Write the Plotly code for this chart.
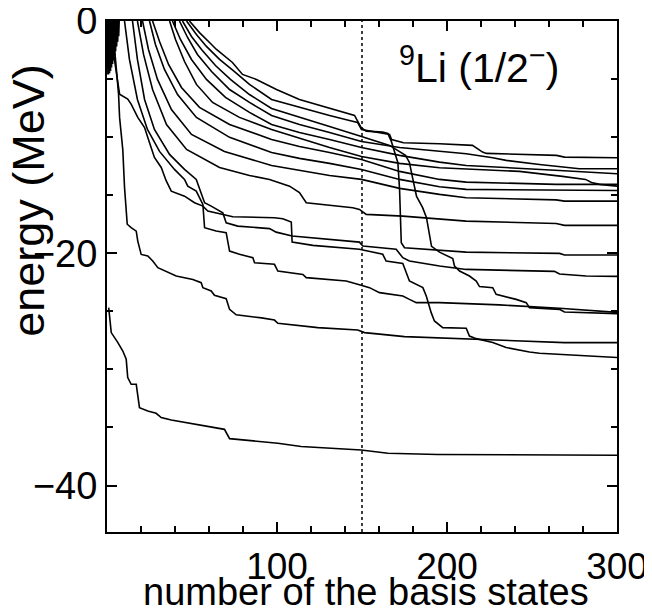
import plotly.graph_objects as go

# ---- data (number of basis states, energy in MeV) ----
x_ground = [1, 2.5, 6.4, 9.3, 11.3, 12.2, 14.2, 17.2, 19.1, 24.0, 28.9, 31.9, 37.8, 55.4, 69.1, 72.1, 86.8, 100.5, 114.2, 149.5, 165.2, 194.6, 300]
e_ground = [-24.68, -26.83, -27.69, -28.42, -29.13, -30.71, -31.28, -31.28, -33.29, -33.58, -33.78, -34.15, -34.35, -34.81, -35.16, -35.96, -36.16, -36.36, -36.64, -36.94, -37.22, -37.33, -37.39]

x_s2 = [3, 6.8, 7.4, 9.3, 10.3, 11.9, 14.2, 17.2, 18.1, 20.1, 24.0, 26.9, 29.9, 32.8, 40.7, 50.5, 55.4, 56.4, 61.3, 63.2, 70.1, 72.1, 76.0, 90.9, 98.5, 100.5, 124.0, 147.5, 151.5, 175.0, 214.2, 269.1, 300]
e_s2 = [0, -6.3, -8.3, -11.1, -14.3, -17.5, -17.8, -18.1, -18.95, -20.1, -20.24, -20.67, -21.24, -21.45, -21.96, -22.25, -22.53, -22.96, -23.25, -23.62, -23.91, -24.83, -25.3, -25.56, -25.75, -26.03, -26.4, -26.61, -26.83, -27.18, -27.41, -27.69, -27.69]

x_s3 = [2.6, 5, 7.4, 12.2, 14.2, 18.1, 22.1, 24, 27.9, 31.9, 34.8, 37.8, 45.6, 51.5, 56.4, 59.3, 69.1, 74, 98.5, 103.4, 108.4, 108.9, 121.1, 148.5, 162.2, 164.2, 174, 177.9, 185.8, 187.8, 190.7, 192.6, 197.5, 211.3, 213.2, 217.2, 226.9, 234.8, 248.5, 254.4, 300]
e_s3 = [-1.59, -4.17, -6.3, -6.73, -7.16, -8.3, -9.17, -10.03, -11.75, -12.61, -13.75, -14.65, -15.08, -15.65, -15.94, -16.37, -16.65, -16.85, -16.94, -17.02, -17.31, -19.04, -19.32, -19.66, -20.09, -20.67, -20.87, -22.39, -22.96, -23.68, -25.11, -25.83, -26.4, -26.46, -27.13, -27.35, -27.69, -28.12, -28.5, -28.61, -28.98]

x_s4 = [15, 17.9, 22.1, 27.9, 36.8, 45.6, 52.5, 55.4, 57.4, 61.3, 68.1, 70.1, 76.9, 95.6, 99.5, 108.9, 148.5, 150.5, 170.1, 174, 177.9, 195.6, 211.3, 263.2, 266.2, 281.9, 300]
e_s4 = [0, -3.31, -6.76, -9.34, -11.49, -12.78, -13.64, -14.78, -15.65, -15.94, -16.51, -17.37, -17.66, -17.88, -18.18, -18.52, -19.04, -19.38, -19.66, -20.38, -20.67, -21.1, -21.39, -21.56, -21.79, -21.96, -21.99]

x_s5 = [10.3, 13.2, 17.9, 23.8, 30.9, 39.7, 45.6, 47.5, 52.5, 54.4, 56.4, 57.4, 64.2, 70.1, 72.1, 77.9, 85.8, 86.8, 98.5, 100.5, 115.2, 117.2, 140.7, 149.5, 154.4, 160.3, 174, 177.9, 181.9, 195.6, 230.9, 266.2, 300]
e_s5 = [0, -3.31, -6.76, -9.34, -11.23, -12.78, -13.64, -14.22, -14.65, -15.22, -15.79, -17.8, -18.09, -18.23, -19.81, -20.09, -20.38, -20.81, -20.95, -21.53, -21.82, -22.1, -22.39, -22.76, -22.96, -23.39, -23.68, -23.97, -24.25, -24.25, -24.44, -24.74, -25.09]

x_s6 = [48.5, 54.4, 60.3, 64.4, 73.8, 79.7, 87.9, 99.7, 113.2, 132.6, 145.6, 149.5, 152.5, 162.2, 165.2, 167.2, 171.1, 172.1, 173.1, 175, 195.6, 211.3, 266.2, 269.1, 300]
e_s6 = [0, -1.0, -1.85, -2.45, -3.57, -4.6, -5.03, -5.9, -6.76, -7.62, -8.13, -9.19, -9.48, -9.57, -9.68, -10.34, -12.2, -14.5, -19.09, -19.52, -19.72, -19.9, -20.01, -20.15, -20.15]

x_s7 = [46.8, 52.6, 58.5, 66.2, 75, 83.8, 96.8, 113.2, 130.9, 142.6, 147.4, 149.7, 166.2, 167.4, 174.4, 195.6, 215, 220.9, 223.2, 264.4, 269.1, 300]
e_s7 = [0, -1.16, -2.19, -3.31, -4.35, -5.46, -6.76, -7.44, -8.13, -8.56, -8.73, -9.34, -9.77, -10.2, -10.48, -10.57, -10.71, -11.29, -11.4, -11.57, -11.72, -11.77]

x_s8 = [44.4, 49.7, 55.6, 63.8, 72.6, 83.8, 96.8, 113.2, 130.9, 149.7, 166.2, 175.6, 177.9, 179.7, 182.1, 185.6, 187.9, 190.9, 195.6, 203.4, 204.4, 207.4, 213.2, 217.2, 219.1, 226.9, 228.9, 240.7, 246.6, 248.5, 266.2, 269.1, 300]
e_s8 = [0, -1.33, -2.45, -3.83, -5.03, -6.33, -7.53, -8.3, -9.08, -9.94, -10.71, -11.57, -12.18, -13.47, -15.1, -16.05, -16.91, -19.4, -19.9, -20.46, -21.1, -21.53, -21.96, -22.39, -22.87, -22.96, -23.54, -23.97, -24.25, -24.68, -24.83, -25.06, -25.2]

x_s9 = [42.6, 47.4, 53.2, 61.5, 72.1, 83.8, 96.8, 113.2, 130.9, 149.7, 172.1, 195.6, 211.3, 226.9, 234.8, 254.4, 277.9, 300]
e_s9 = [0, -1.42, -2.88, -4.35, -5.9, -7.01, -8.13, -8.91, -9.6, -10.37, -10.89, -11.2, -11.43, -11.77, -12.0, -12.35, -12.72, -12.72]

x_s10 = [38.5, 43.2, 49.7, 58.5, 69.7, 83.8, 96.8, 113.2, 130.9, 149.7, 172.1, 195.6, 211.3, 252.5, 266.2, 300]
e_s10 = [0, -1.59, -3.31, -5.03, -6.58, -7.87, -8.91, -9.6, -10.2, -10.89, -11.57, -12.15, -12.44, -12.72, -12.87, -13.15]

x_s11 = [36.8, 40.3, 45.6, 52.6, 62.1, 77.9, 96.8, 113.2, 130.9, 149.7, 172.1, 195.6, 242.6, 267.9, 281.5, 285, 289.7, 300]
e_s11 = [0, -1.59, -3.49, -5.46, -7.01, -8.3, -9.34, -10.11, -10.89, -11.66, -12.26, -12.63, -12.95, -13.38, -13.64, -13.9, -14.07, -14.22]

x_s12 = [26.8, 30.9, 36.2, 43.8, 54.4, 72.1, 96.8, 113.2, 130.9, 149.7, 172.1, 195.6, 211.3, 264.2, 300]
e_s12 = [0, -1.76, -3.74, -5.72, -7.44, -8.91, -10.2, -10.8, -11.32, -11.92, -12.95, -13.64, -13.87, -14.07, -14.07]

x_s13 = [25, 28.5, 33.8, 41.5, 52.6, 72.1, 96.8, 113.2, 130.9, 149.7, 172.1, 195.6, 211.3, 264.2, 300]
e_s13 = [0, -2.02, -4.17, -6.33, -8.3, -10.02, -11.32, -11.83, -12.26, -12.78, -13.64, -14.27, -14.5, -14.59, -14.59]

x_s14 = [20.9, 24.4, 29.7, 37.9, 49.7, 69.1, 96.8, 113.2, 130.9, 149.7, 172.1, 195.6, 211.3, 264.2, 269.1, 300]
e_s14 = [0, -2.45, -5.03, -7.62, -9.77, -11.23, -12.44, -12.87, -13.3, -13.64, -14.41, -14.93, -15.22, -15.4, -15.51, -15.51]

x_s15 = [17.9, 21.5, 26.8, 35, 46.8, 66.2, 83.8, 95.6, 107.4, 113.2, 117.2, 134.8, 144.6, 148.5, 152.5, 174, 195.6, 211.3, 264.2, 269.1, 300]
e_s15 = [0, -2.88, -5.9, -8.91, -11.06, -12.61, -13.3, -13.64, -14.22, -14.78, -15.65, -15.94, -16.08, -16.22, -16.65, -16.8, -17.02, -17.23, -17.43, -17.6, -17.6]

# dense early-basis region near the origin (dark patch in the reference)
x_early = [0.4, 0.7, 1.0, 1.3, 1.6, 1.9, 2.2, 2.5, 2.8, 3.1, 3.4, 3.7, 4.0, 4.3, 4.6, 4.9, 5.2, 5.5, 5.8, 6.1, 6.4, 6.7, 7.0]
e_early = [0, -4.6, 0, -4.5, 0, -4.3, 0, -4.0, 0, -3.7, 0, -3.4, 0, -3.0, 0, -2.6, 0, -2.2, 0, -1.8, 0, -1.3, 0]

x_cut = 150
x_ticks = [100, 200, 300]
y_ticks = [0, -20, -40]
y_ticktext = ["0", "\u221220", "\u221240"]

series = [
    (x_ground, e_ground), (x_s2, e_s2), (x_s3, e_s3), (x_s4, e_s4), (x_s5, e_s5),
    (x_s6, e_s6), (x_s7, e_s7), (x_s8, e_s8), (x_s9, e_s9), (x_s10, e_s10),
    (x_s11, e_s11), (x_s12, e_s12), (x_s13, e_s13), (x_s14, e_s14), (x_s15, e_s15),
]

FONT = "Liberation Sans, Arial, Helvetica, sans-serif"

fig = go.Figure()
for xs, es in series:
    fig.add_trace(go.Scatter(x=xs, y=es, mode="lines",
                             line=dict(color="black", width=1.6),
                             showlegend=False, hoverinfo="skip"))
fig.add_trace(go.Scatter(x=x_early, y=e_early, mode="lines",
                         line=dict(color="black", width=2.2),
                         showlegend=False, hoverinfo="skip"))

fig.add_shape(type="line", x0=x_cut, x1=x_cut, y0=0, y1=1, xref="x", yref="paper",
              line=dict(color="black", width=1.5, dash="3px,3px"))

# the page body adds an 8px offset; margins compensate so the plot area sits at 107..617 x 21..532
fig.update_layout(
    width=644, height=600,
    margin=dict(l=99, r=35, t=13, b=76, autoexpand=False),
    paper_bgcolor="white", plot_bgcolor="white",
    font=dict(family=FONT, color="black", size=38),
    showlegend=False,
)
fig.update_xaxes(range=[0, 300], tickmode="array", tickvals=x_ticks,
                 ticks="inside", ticklen=10, tickwidth=1.5, tickcolor="black",
                 minor=dict(dtick=20, ticks="inside", ticklen=6, tickwidth=1.5, tickcolor="black"),
                 showline=True, linecolor="black", linewidth=2, mirror="allticks",
                 showgrid=False, zeroline=False, ticklabelstandoff=1, automargin=False,
                 ticklabeloverflow="allow",
                 tickfont=dict(size=37, family=FONT))
fig.update_yaxes(range=[-44, 0], tickmode="array", tickvals=y_ticks, ticktext=y_ticktext,
                 ticks="inside", ticklen=10, tickwidth=1.5, tickcolor="black",
                 minor=dict(dtick=5, ticks="inside", ticklen=6, tickwidth=1.5, tickcolor="black"),
                 showline=True, linecolor="black", linewidth=2, mirror="allticks",
                 showgrid=False, zeroline=False, ticklabelstandoff=0, automargin=False,
                 ticklabeloverflow="allow",
                 tickfont=dict(size=38, family=FONT))

fig.add_annotation(text="number of the basis states", xref="paper", yref="paper",
                   x=0.508, y=-0.118, xanchor="center", yanchor="middle",
                   showarrow=False, font=dict(size=38, family=FONT))
fig.add_annotation(text="energy (MeV)", xref="paper", yref="paper",
                   x=-0.153, y=0.65, xanchor="center", yanchor="middle", textangle=-90,
                   showarrow=False, font=dict(size=45, family=FONT))
fig.add_annotation(text="<sup>9</sup>Li (1/2<sup>\u2212</sup>)", xref="x", yref="y",
                   x=219, y=-3.8, xanchor="center", yanchor="middle",
                   showarrow=False, font=dict(size=41, family=FONT))

fig.write_html("out.html")
